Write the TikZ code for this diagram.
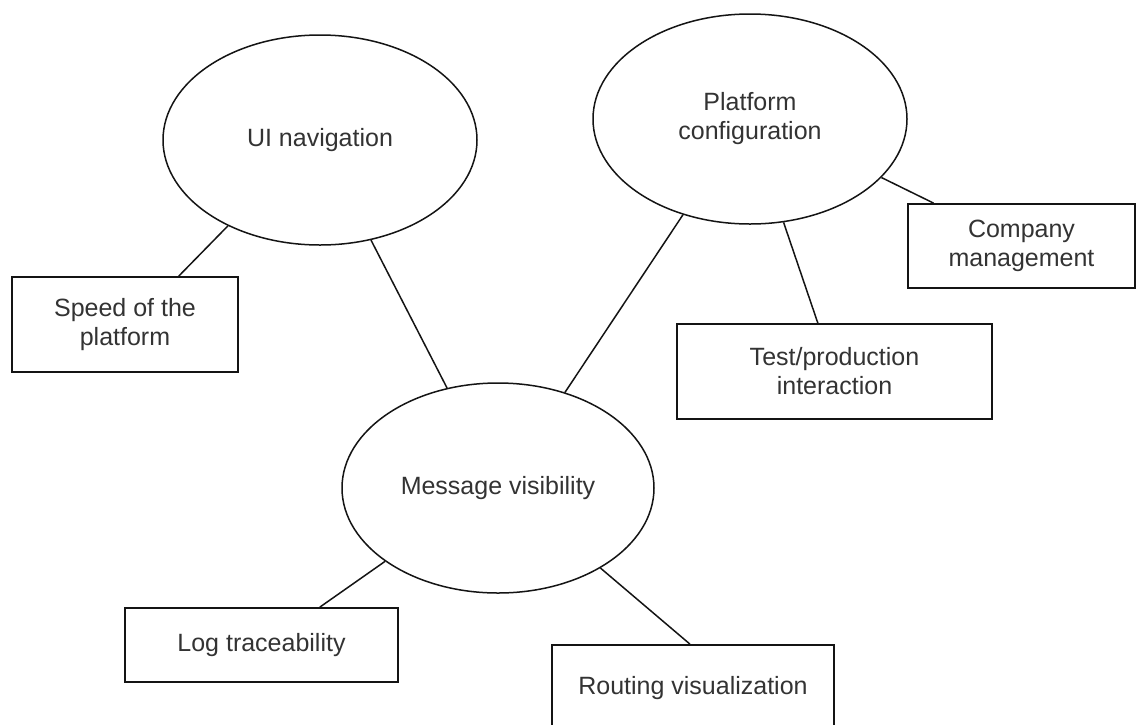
\documentclass[tikz,border=0pt]{standalone}
\usepackage{fontspec}
\setmainfont{Liberation Sans}
\usetikzlibrary{shapes.geometric}
\definecolor{txt}{RGB}{51,51,51}
\definecolor{strk}{RGB}{20,20,20}
\tikzset{
  topic/.style={ellipse, draw=strk, line width=1.5pt, fill=white, inner sep=0pt,
    minimum width=314pt, minimum height=210pt, text=txt, align=center,
    font=\fontsize{25}{29}\selectfont},
  leaf/.style={rectangle, draw=strk, line width=1.8pt, fill=white, inner sep=0pt,
    text=txt, align=center, font=\fontsize{25}{29}\selectfont},
  link/.style={draw=strk, line width=1.5pt}
}
\begin{document}
\begin{tikzpicture}[x=1pt,y=-1pt]
\useasboundingbox[fill=white] (0,0) rectangle (1138,724);
% ellipses
\node[topic] (ui) at (320,140) {UI navigation};
\node[topic] (plat) at (750,119) {Platform\\configuration};
\node[topic, minimum width=312pt] (msg) at (498,488) {Message visibility};
% boxes
\node[leaf, minimum width=226pt, minimum height=95pt] (speed) at (125,324.5) {Speed of the\\platform};
\node[leaf, minimum width=227pt, minimum height=84pt] (comp) at (1021.5,246) {Company\\management};
\node[leaf, minimum width=315pt, minimum height=95pt] (test) at (834.5,371.5) {Test/production\\interaction};
\node[leaf, minimum width=273pt, minimum height=74pt] (log) at (261.5,645) {Log traceability};
\node[leaf, minimum width=282pt, minimum height=86pt] (rout) at (693,688) {Routing visualization};
% connectors
\draw[link] (ui.223.7) -- (speed.42.4);
\draw[link] (ui.297.7) -- (msg.117);
\draw[link] (plat.235.4) -- (msg.55.6);
\draw[link] (plat.288.3) -- (test.109.2);
\draw[link] (plat.336) -- (comp.154.9);
\draw[link] (msg.213.5) -- (log.33.2);
\draw[link] (msg.322.2) -- (rout.94);
\end{tikzpicture}
\end{document}
